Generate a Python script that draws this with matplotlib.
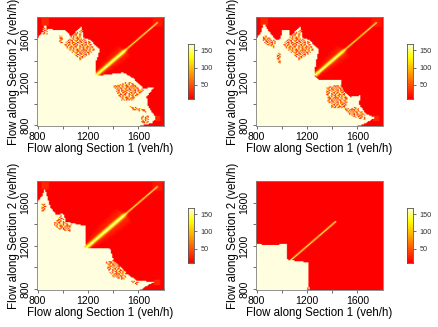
import numpy as np
import matplotlib
matplotlib.use("Agg")
import matplotlib.pyplot as plt
from matplotlib.path import Path
from matplotlib.colors import LinearSegmentedColormap

plt.rcParams['font.family'] = ['Liberation Sans', 'DejaVu Sans']

W, H = 438, 327
X_LABEL = "Flow along Section 1 (veh/h)"
Y_LABEL = "Flow along Section 2 (veh/h)"
TICKS = [800, 1000, 1200, 1400, 1600]
TICK_LABELS = ["800", "", "1200", "", "1600"]
CB_TICKS = [50, 100, 150]
VMIN, VMAX = 8, 168

# saturated (cream) region outlines
boundary1 = [(795,1597),(832,1652),(858,1730),(884,1690),(982,1677),(1016,1683),(1069,1615),(1114,1683),
             (1148,1708),(1162,1606),(1214,1590),(1294,1497),(1262,1389),(1254,1256),(1478,1287),(1558,1234),
             (1637,1141),(1721,1150),(1663,1063),(1676,970),(1737,871),(1703,822),(1610,795)]
boundary2 = [(795,1597),(832,1652),(858,1740),(897,1668),(950,1590),(990,1597),(1003,1677),(1055,1677),
             (1069,1615),(1114,1683),(1148,1708),(1162,1606),(1214,1590),(1294,1497),(1267,1373),(1260,1256),
             (1293,1218),(1465,1224),(1478,1125),(1544,1063),(1624,1078),(1610,1001),(1663,908),(1737,871),
             (1663,822),(1605,795)]
boundary3 = [(795,1600),(832,1656),(858,1727),(879,1640),(898,1563),(950,1486),(1003,1501),(1024,1424),
             (1121,1400),(1183,1387),(1183,1208),(1162,1177),(1373,1177),(1399,1069),(1505,945),(1584,883),
             (1721,868),(1663,831),(1605,791)]
boundary4 = [(795,1226),(880,1205),(967,1205),(985,1218),(1043,1217),(1043,1078),(1061,1072),(1214,1047),
             (1209,908),(1215,800),(1200,795)]

# speckled regions
speckle1 = [[(1003,1544),(1109,1668),(1156,1683),(1148,1606),(1214,1575),(1254,1497),(1201,1451),(1135,1398),(1096,1451),(1043,1497)],
            [(840,1700),(884,1700),(884,1637),(840,1637)],
            [(972,1628),(998,1628),(998,1560),(972,1560)],
            [(1399,1163),(1518,1203),(1558,1187),(1637,1126),(1544,1033),(1465,1033),(1426,1110)],
            [(1531,977),(1663,946),(1663,920),(1531,950)],
            [(1624,893),(1684,893),(1684,822),(1624,822)]]
speckle2 = [[(1003,1544),(1109,1668),(1156,1683),(1148,1606),(1214,1575),(1254,1497),(1201,1451),(1135,1398),(1096,1451),(1043,1497)],
            [(845,1652),(950,1575),(937,1513),(858,1560)],
            [(964,1466),(995,1466),(995,1374),(964,1374)],
            [(1346,1156),(1465,1172),(1518,1063),(1518,955),(1399,955),(1360,1033)],
            [(1492,955),(1597,970),(1663,893),(1663,846),(1558,878)]]
speckle3 = [[(832,1594),(871,1594),(871,1517),(832,1517)],
            [(924,1409),(990,1492),(1016,1424),(1069,1393),(1056,1331),(950,1362)],
            [(1333,1053),(1399,1069),(1505,961),(1492,883),(1399,914),(1360,976)],
            [(1531,883),(1590,831),(1610,870)]]
speckle4 = [[(1195,830),(1225,830),(1225,795),(1195,795)]]

speckle_tile = [[ 30,168, 60, 25,110,168, 20, 40,168, 35, 80,168, 25],
                [ 70,168, 30,168,168, 45,130,168, 25, 50,168, 60,140],
                [168, 20, 40,168, 60, 90, 30,168, 20,168, 35,168, 20],
                [ 40,120,168, 25,168,168, 70, 25,140, 45,168, 30,168],
                [ 25,168, 60, 90,168, 35, 25, 60,168,100, 20, 80, 40],
                [168, 35,168, 40,130,150, 40,168, 30,168,168, 20,110],
                [ 20, 90,168, 30,168, 70,168,110, 60,168, 35, 60,168],
                [120, 25, 50,168, 25, 45,168,168, 40, 80,168, 30,168],
                [168, 60,168, 80,168, 30, 90,140, 25,168, 40,120, 35],
                [ 30,168,140, 25, 40,168, 20,168,168, 60, 25,168, 70],
                [ 60,168, 35,168, 70, 25,120,168, 45,168,150, 40,168]]

# soft glows: x0, x1, y0, y1, value
halo1 = [(835,885,1720,1790,24),(1710,1790,1710,1790,22),(1720,1770,840,890,28)]
halo2 = [(835,885,1720,1790,24),(1710,1790,1710,1790,22),(1720,1770,840,890,28)]
halo3 = [(835,885,1720,1790,24),(1710,1790,1710,1790,22),(1720,1770,840,890,28)]
halo4 = []

# diagonal ridge: position along diagonal, core value/width, glow value/width
q1 = [1255,1300,1400,1480,1510,1600,1750,1751]
core1 = [168,168,168,168,140,140,150,8]
corew1 = [34,32,34,34,15,14,14,0]
glow1 = [25,26,28,30,12,10,10,8]
gloww1 = [30,70,110,125,40,20,20,0]

q2 = [1265,1300,1400,1480,1510,1600,1750,1751]
core2 = [168,168,168,160,140,130,150,8]
corew2 = [34,30,32,32,15,14,14,0]
glow2 = [25,26,28,30,12,10,10,8]
gloww2 = [30,70,110,125,40,20,20,0]

q3 = [1175,1250,1350,1480,1510,1600,1750,1751]
core3 = [168,168,168,168,140,140,150,8]
corew3 = [36,34,38,36,15,14,14,0]
glow3 = [25,28,30,32,12,10,10,8]
gloww3 = [40,90,135,150,40,20,20,0]

q4 = [1055,1100,1300,1425,1426]
core4 = [150,145,145,150,8]
corew4 = [14,14,14,14,0]
glow4 = [8,8,8,8,8]
gloww4 = [0,0,0,0,0]

panels = [
    dict(b=boundary1, s=speckle1, h=halo1, q=q1, c=core1, cw=corew1, g=glow1, gw=gloww1, px=(37, 17.3)),
    dict(b=boundary2, s=speckle2, h=halo2, q=q2, c=core2, cw=corew2, g=glow2, gw=gloww2, px=(256, 17.3)),
    dict(b=boundary3, s=speckle3, h=halo3, q=q3, c=core3, cw=corew3, g=glow3, gw=gloww3, px=(37, 181)),
    dict(b=boundary4, s=speckle4, h=halo4, q=q4, c=core4, cw=corew4, g=glow4, gw=gloww4, px=(256, 181)),
]

heat = LinearSegmentedColormap.from_list(
    "heat", [(0, "#FF0000"), (0.375, "#FF8000"), (0.75, "#FFFF00"), (1, "#FFFFE0")], N=30)

cx = np.arange(795, 1805, 10.0)
X, Y = np.meshgrid(cx, cx)
pts = np.column_stack([X.ravel(), Y.ravel()])


def build(p):
    Z = np.full(X.shape, float(VMIN))
    for x0, x1, y0, y1, v in p["h"]:
        Z[(X >= x0) & (X <= x1) & (Y >= y0) & (Y <= y1)] = v
    q = (X + Y) / 2
    d = np.abs(X - Y)
    cv = np.interp(q, p["q"], p["c"])
    cw = np.interp(q, p["q"], p["cw"])
    gv = np.interp(q, p["q"], p["g"])
    gw = np.interp(q, p["q"], p["gw"])
    inside = (q >= p["q"][0]) & (q <= p["q"][-1])
    gm = inside & (d < gw)
    Z[gm] = np.maximum(Z[gm], VMIN + (gv[gm] - VMIN) * (1 - d[gm] / gw[gm]) * 1.3)
    cm = inside & (d < cw)
    Z[cm] = np.maximum(Z[cm], gv[cm] + (cv[cm] - gv[cm]) * (1 - d[cm] / cw[cm]))
    b = list(p["b"])
    outline = b + [(b[-1][0], 770), (770, 770), (770, b[0][1])]
    Z[Path(outline).contains_points(pts).reshape(X.shape)] = VMAX
    tile = np.array(speckle_tile, float)
    ri = np.arange(X.shape[0]) % tile.shape[0]
    ci = np.arange(X.shape[1]) % tile.shape[1]
    T = tile[np.ix_(ri, ci)]
    for poly in p["s"]:
        m = Path(poly).contains_points(pts).reshape(X.shape)
        Z[m] = T[m]
    return Z


fig = plt.figure(figsize=(W / 100, H / 100), dpi=100)
AW, AH = 126.7, 108.6
for p in panels:
    left, top = p["px"]
    ax = fig.add_axes([left / W, 1 - (top + AH) / H, AW / W, AH / H])
    ax.imshow(build(p), origin="lower", extent=(790, 1800, 790, 1800), aspect="auto",
              cmap=heat, vmin=VMIN, vmax=VMAX, interpolation="bilinear")
    ax.set_xlim(795, 1800)
    ax.set_ylim(795, 1802)
    ax.set_xticks(TICKS, TICK_LABELS)
    ax.set_yticks(TICKS, TICK_LABELS)
    ax.tick_params(length=2.5, width=0.5, labelsize=7.5, color="#333333")
    ax.tick_params(axis="x", pad=2)
    ax.tick_params(axis="y", pad=2.5)
    for lab in ax.get_yticklabels():
        lab.set_rotation(90)
        lab.set_va("center")
    for s in ax.spines.values():
        s.set_linewidth(0.6)
        s.set_color("#808080")
    fig.text((left + 63.3) / W, 1 - (top + 131.7) / H, X_LABEL, fontsize=8.3, ha="center", va="center")
    fig.text((left - 23.3) / W, 1 - (top + 54.5) / H, Y_LABEL, fontsize=8.3, rotation=90, ha="center", va="center")

    cax = fig.add_axes([(left + 151.3) / W, 1 - (top + 82) / H, 5.7 / W, 55 / H])
    grad = np.linspace(VMIN, VMAX, 60)[:, None]
    cax.imshow(grad, origin="lower", extent=(0, 1, VMIN, VMAX), aspect="auto", cmap=heat, vmin=VMIN, vmax=VMAX)
    cax.set_xticks([])
    cax.yaxis.tick_right()
    cax.set_yticks(CB_TICKS, [str(v) for v in CB_TICKS])
    cax.tick_params(length=2.5, width=0.5, labelsize=5.3, pad=2, color="#333333", labelcolor="#333333")
    for s in cax.spines.values():
        s.set_linewidth(0.6)
        s.set_color("#555555")

fig.savefig("out.png", dpi=100)
